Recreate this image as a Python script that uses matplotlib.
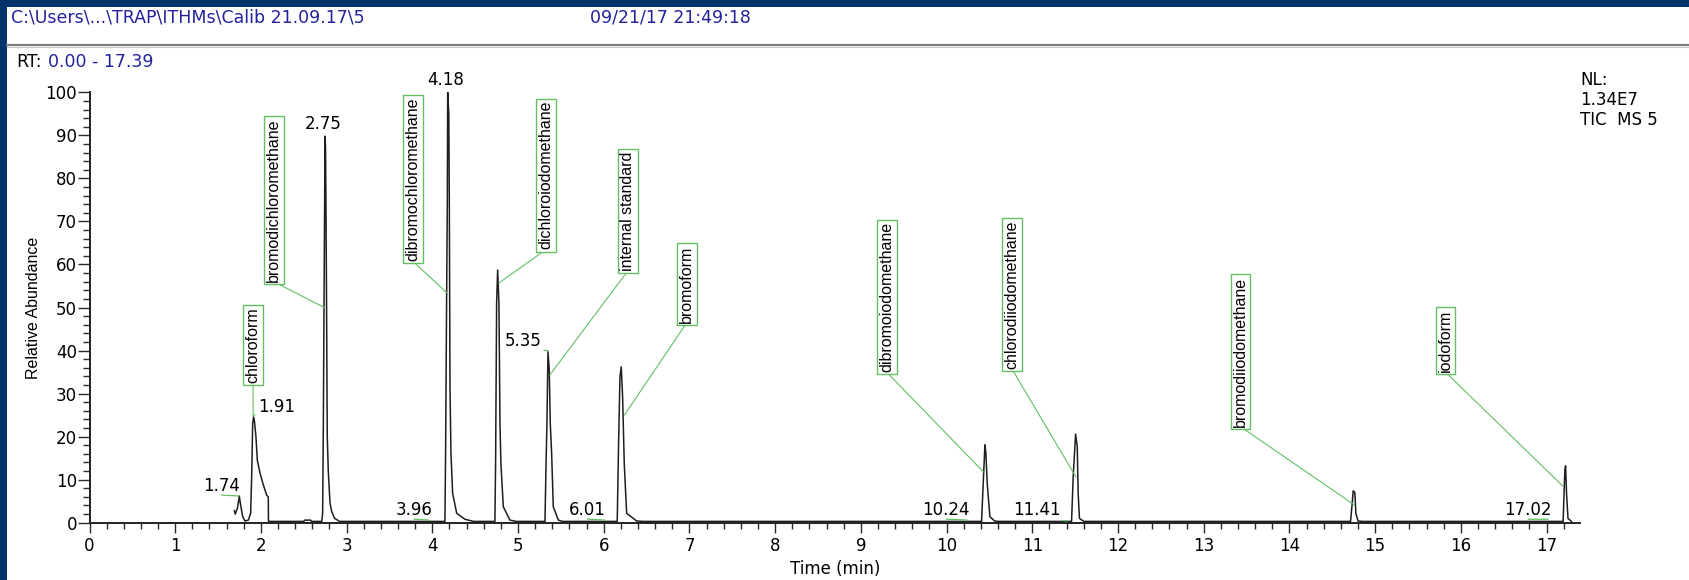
"""Recreate the Xcalibur TIC chromatogram screenshot (Calib 21.09.17, sample 5)."""

import matplotlib

matplotlib.use("Agg")

import matplotlib.pyplot as plt
from matplotlib.lines import Line2D
from matplotlib.patches import Rectangle
from matplotlib.ticker import MultipleLocator

# chromatogram trace: time (min), relative abundance (%)
trace_time = [
    1.690, 1.700, 1.725, 1.748, 1.760, 1.787, 1.814, 1.853, 1.880, 1.892,
    1.904, 1.915, 1.925, 1.942, 1.958, 1.990, 2.028, 2.067, 2.086, 2.088,
    2.500, 2.510, 2.580, 2.590,
    2.709, 2.720, 2.728, 2.736, 2.742, 2.748, 2.754, 2.760, 2.766, 2.774,
    2.786, 2.806, 2.825, 2.860, 2.920,
    4.147, 4.155, 4.167, 4.175, 4.179, 4.192, 4.198, 4.206, 4.217, 4.237,
    4.284, 4.380, 4.480,
    4.730, 4.738, 4.750, 4.762, 4.777, 4.789, 4.800, 4.828, 4.905, 4.980,
    5.314, 5.326, 5.337, 5.349, 5.364, 5.376, 5.392, 5.411, 5.470, 5.520,
    6.157, 6.173, 6.189, 6.204, 6.220, 6.239, 6.267, 6.383, 6.450,
    10.408, 10.428, 10.447, 10.458, 10.474, 10.505, 10.560, 10.600,
    11.458, 11.477, 11.505, 11.524, 11.535, 11.550, 11.600,
    14.713, 14.732, 14.744, 14.763, 14.775, 14.800, 14.850,
    17.193, 17.213, 17.222, 17.233, 17.250, 17.290,
]
trace_abund = [
    2.8, 2.0, 3.3, 6.2, 4.5, 1.4, 0.4, 0.6, 2.2, 10.7,
    23.1, 24.6, 23.5, 20.0, 14.5, 11.5, 8.8, 6.4, 6.0, 0.3,
    0.3, 0.6, 0.6, 0.3,
    0.3, 2.2, 22.0, 50.0, 70.0, 89.8, 87.0, 70.0, 50.0, 20.0,
    12.0, 4.6, 2.6, 1.0, 0.3,
    0.3, 17.3, 53.3, 75.0, 100.0, 95.0, 75.0, 31.6, 16.2, 6.8,
    2.2, 0.8, 0.3,
    0.3, 13.8, 51.0, 58.7, 51.0, 23.1, 13.8, 3.7, 0.6, 0.3,
    0.3, 13.0, 23.0, 39.7, 35.5, 23.0, 16.1, 3.7, 0.6, 0.3,
    0.3, 18.4, 33.9, 36.2, 29.3, 13.8, 2.2, 0.4, 0.3,
    0.3, 9.5, 18.1, 16.3, 9.1, 1.4, 0.4, 0.3,
    0.3, 10.7, 20.6, 17.7, 6.8, 1.0, 0.3,
    0.3, 4.5, 7.4, 7.0, 2.2, 0.4, 0.3,
    0.3, 12.2, 13.2, 6.8, 1.0, 0.3,
]

# retention-time labels and the trace height they point at
rt_labels = ["1.74", "1.91", "2.75", "3.96", "4.18", "5.35", "6.01", "10.24", "11.41", "17.02"]
rt_height = [6.2, 25.0, 90.0, 0.6, 100.0, 40.0, 0.6, 0.6, 0.4, 0.8]

# compound names and the point on the peak their leader touches
compounds = [
    "chloroform", "bromodichloromethane", "dibromochloromethane",
    "dichloroiodomethane", "internal standard", "bromoform",
    "dibromoiodomethane", "chlorodiiodomethane", "bromodiiodomethane", "iodoform",
]
compound_time = [1.91, 2.74, 4.17, 4.776, 5.37, 6.24, 10.43, 11.51, 14.76, 17.19]
compound_abund = [24.8, 50.0, 53.4, 55.7, 34.3, 25.0, 11.8, 10.6, 4.1, 8.5]

header_path = "C:\\Users\\...\\TRAP\\ITHMs\\Calib 21.09.17\\5"
header_date = "09/21/17 21:49:18"
rt_range = "0.00 - 17.39"
nl_lines = ["NL:", "1.34E7", "TIC  MS 5"]

# layout: pixel offsets of the RT labels, box anchors of the compound labels
RT_OFFSETS = [(-17, 10), (23, 8), (-2, 11), (-15, 10), (-2, 12),
              (-25, 10), (-17, 10), (-21, 10), (-31, 11), (-20, 9)]
RT_LEADER = [True, True, False, True, False, True, True, True, True, True]
BOX_ANCHORS = [(1.907, 32.5), (2.15, 56.0), (3.77, 60.8), (5.33, 63.5), (6.28, 58.5),
               (6.97, 46.5), (9.30, 35.0), (10.76, 35.8), (13.43, 22.3), (15.82, 35.0)]

W, H = 1689, 580
NAVY = "#00336a"
BLUE = "#22229c"
GREEN = "#62c062"
INK = "#1e1e1e"


def fx(px: float) -> float:
    return px / W


def fy(py: float) -> float:
    return 1 - py / H


def draw_frame(fig) -> None:
    fig.add_artist(Rectangle((0, fy(7)), 1, 7 / H, transform=fig.transFigure,
                             color=NAVY, lw=0))
    fig.add_artist(Rectangle((0, 0), fx(7), 1, transform=fig.transFigure,
                             color=NAVY, lw=0))
    fig.add_artist(Line2D([fx(7), 1], [fy(45), fy(45)], transform=fig.transFigure,
                          color="#7a7a7a", lw=1.6))
    fig.add_artist(Line2D([fx(7), 1], [fy(47), fy(47)], transform=fig.transFigure,
                          color="#c8c8c8", lw=0.8))

    fig.text(fx(11), fy(17), header_path, color=BLUE, fontsize=12.5, va="center")
    fig.text(fx(590), fy(17), header_date, color=BLUE, fontsize=12.5, va="center")
    fig.text(fx(16), fy(62), "RT:", color="black", fontsize=12.5, va="center")
    fig.text(fx(48), fy(62), rt_range, color=BLUE, fontsize=12.5, va="center")
    for i, line in enumerate(nl_lines):
        fig.text(fx(1580), fy(80 + 20 * i), line, color="black", fontsize=12, va="center")


def main() -> None:
    plt.rcParams["font.family"] = ["DejaVu Sans"]
    fig = plt.figure(figsize=(W / 100, H / 100), dpi=100)
    ax = fig.add_axes([fx(89.5), fy(522.7), (1580 - 89.5) / W, 430.4 / H])

    ax.plot(trace_time, trace_abund, color=INK, lw=1.1)

    ax.set_xlim(0, 17.39)
    ax.set_ylim(0, 100)
    ax.xaxis.set_major_locator(MultipleLocator(1))
    ax.xaxis.set_minor_locator(MultipleLocator(0.2))
    ax.yaxis.set_major_locator(MultipleLocator(10))
    ax.yaxis.set_minor_locator(MultipleLocator(2))
    ax.tick_params(axis="both", which="both", direction="out", width=1.0,
                   color="#2a2a2a", labelsize=12)
    ax.tick_params(axis="y", which="major", length=8.5, pad=0.5)
    ax.tick_params(axis="y", which="minor", length=5)
    ax.tick_params(axis="x", which="major", length=7, pad=3)
    ax.tick_params(axis="x", which="minor", length=4.5)
    for side in ("top", "right"):
        ax.spines[side].set_visible(False)
    for side in ("left", "bottom"):
        ax.spines[side].set_linewidth(1.4)
        ax.spines[side].set_color("#222222")

    ax.set_xlabel("Time (min)", fontsize=12, labelpad=4)
    ax.set_ylabel("Relative Abundance", family="Liberation Sans", fontsize=11.5,
                  labelpad=3.5)

    for label, height, offset, leader in zip(rt_labels, rt_height, RT_OFFSETS, RT_LEADER):
        arrow = None
        if leader:
            arrow = dict(arrowstyle="-", color=GREEN, lw=0.9, relpos=(0.5, 0.0),
                         shrinkA=0, shrinkB=0)
        ax.annotate(label, xy=(float(label), height), xytext=offset,
                    textcoords="offset pixels", ha="center", va="center",
                    fontsize=12, color="black", arrowprops=arrow,
                    annotation_clip=False)

    for name, t, a, anchor in zip(compounds, compound_time, compound_abund, BOX_ANCHORS):
        ax.annotate(name, xy=(t, a), xytext=anchor, textcoords="data",
                    rotation=90, ha="center", va="bottom",
                    family="Liberation Sans", fontsize=11.5, color="black",
                    bbox=dict(boxstyle="square,pad=0.15", fc="white", ec=GREEN, lw=1.0),
                    arrowprops=dict(arrowstyle="-", color=GREEN, lw=0.8,
                                    relpos=(0.5, 0.0), shrinkA=0, shrinkB=0))

    draw_frame(fig)
    fig.savefig("out.png", dpi=100, facecolor="white")
    plt.close(fig)


if __name__ == "__main__":
    main()
